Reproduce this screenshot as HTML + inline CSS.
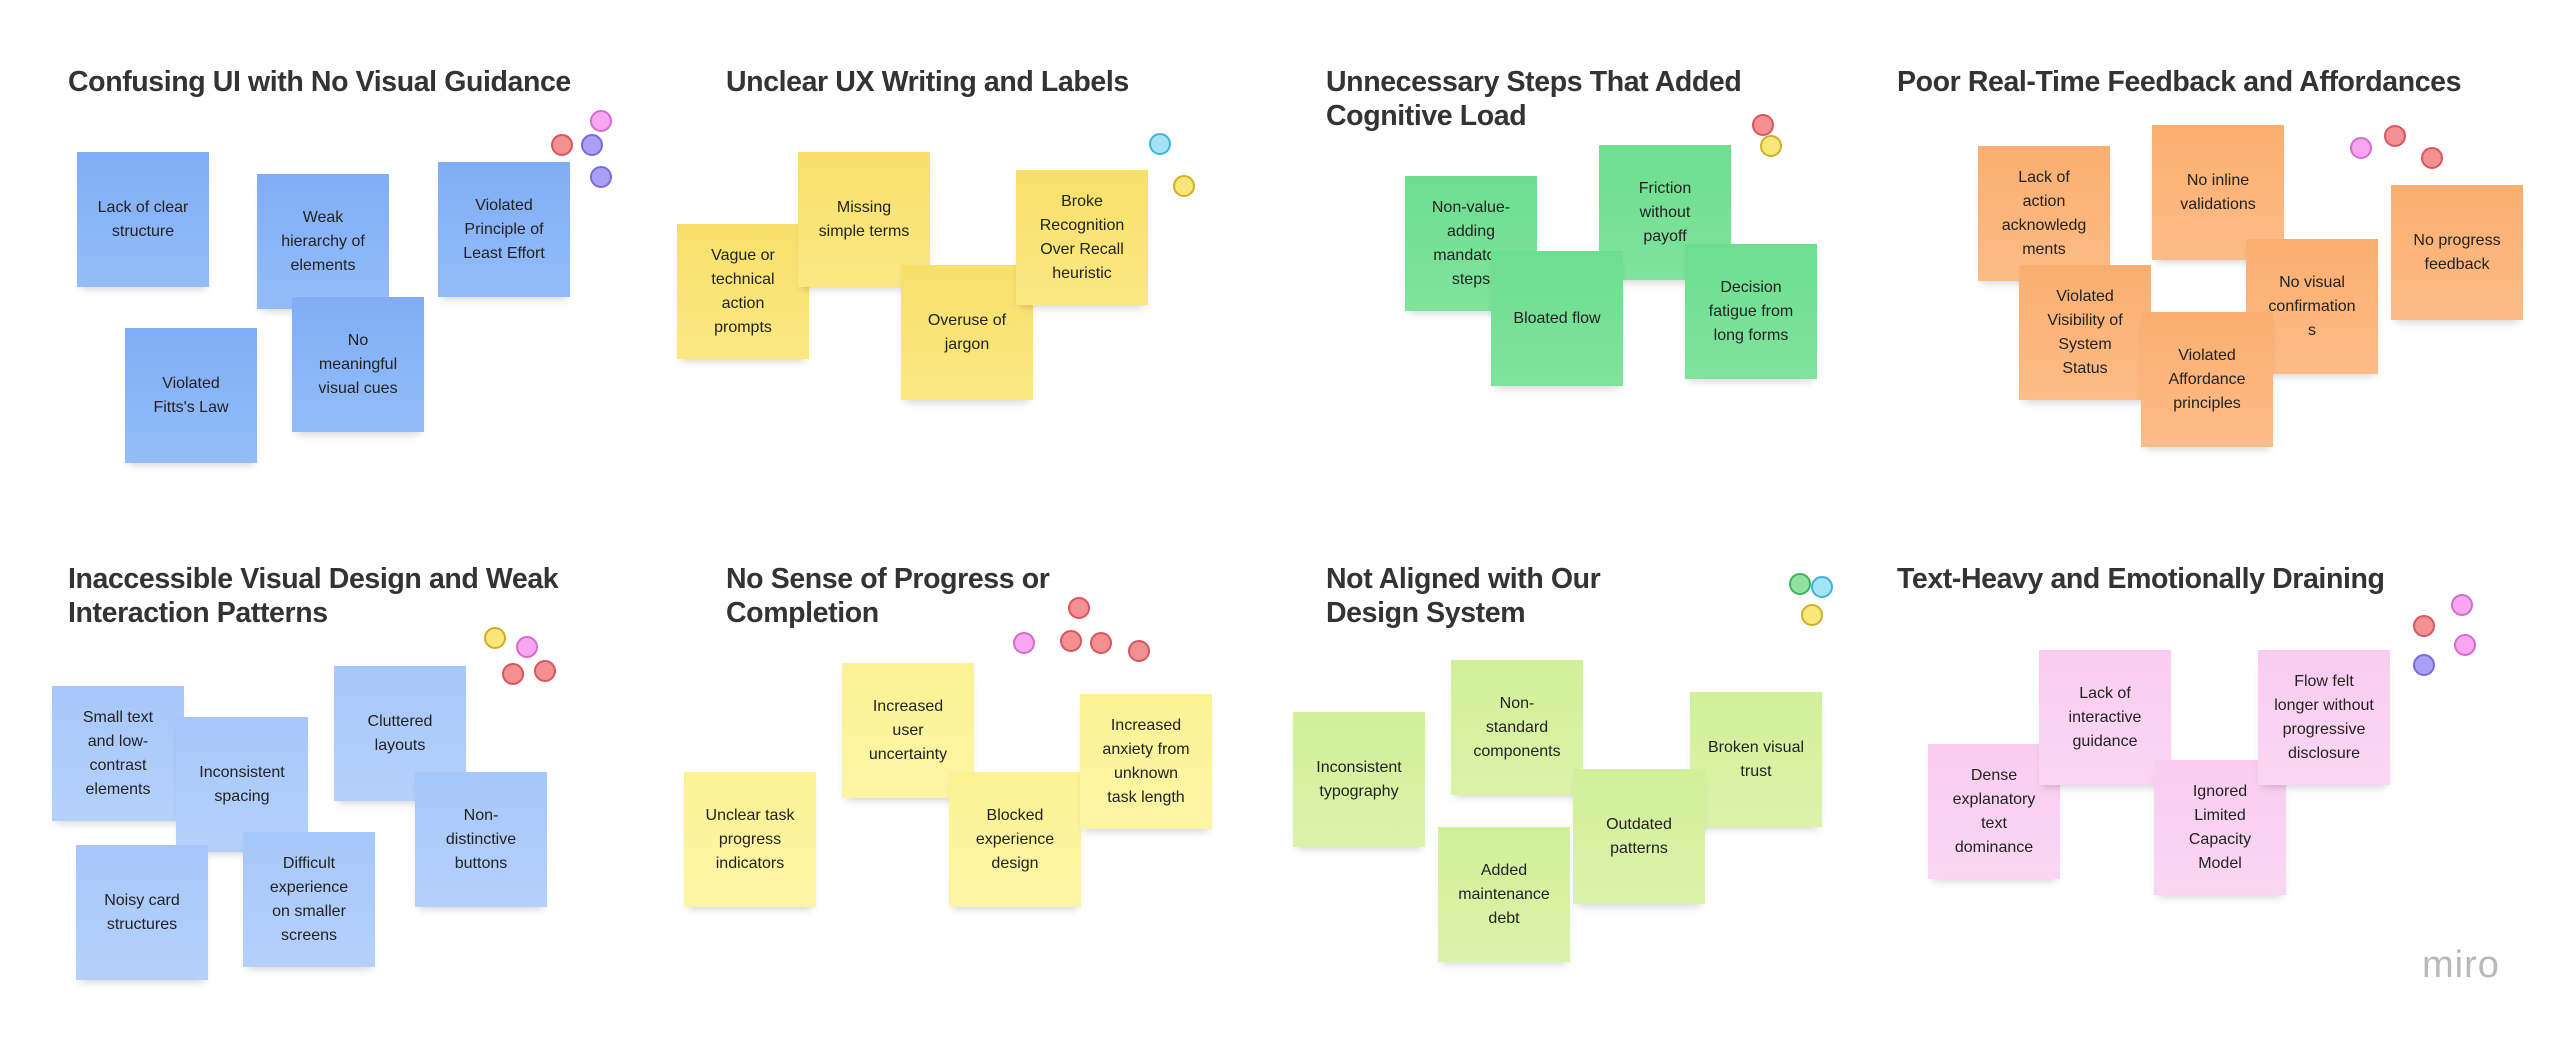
<!DOCTYPE html>
<html><head><meta charset="utf-8"><style>
body{margin:0;width:2560px;height:1041px;background:#fff;position:relative;overflow:hidden;font-family:"Liberation Sans",sans-serif;}
.t{position:absolute;font-weight:bold;font-size:28.5px;line-height:34px;color:#333;letter-spacing:-0.4px;}
.n{position:absolute;width:132px;height:135px;display:flex;align-items:center;justify-content:center;text-align:center;font-size:16px;line-height:24px;color:#222;box-shadow:0 6px 8px -4px rgba(0,0,0,0.18);box-sizing:border-box;padding:0 6px;}
.b{background:linear-gradient(#80adf5,#93bdf9);}
.y{background:linear-gradient(#f8e06a,#fbe883);}
.g{background:linear-gradient(#6dde8f,#7fe39c);}
.o{background:linear-gradient(#fbae70,#fcbc86);}
.lb{background:linear-gradient(#a6c7fa,#b5d1fb);}
.ly{background:linear-gradient(#fcf294,#fdf5a6);}
.lg{background:linear-gradient(#d2f09a,#daf3a9);}
.p{background:linear-gradient(#f9cdf0,#fbd6f3);}
.d{position:absolute;width:18px;height:18px;border-radius:50%;border:2px solid;}
.dr{background:#f49090;border-color:#d95560;}
.dp{background:#f7a6ef;border-color:#d46bd2;}
.du{background:#ab9ef5;border-color:#7a6ae0;}
.dc{background:#a3e4f6;border-color:#3db3d8;}
.dy{background:#fae77a;border-color:#d0ae25;}
.dg{background:#8fe39e;border-color:#3db35e;}
</style></head><body>

<div class="t" style="left:68px;top:65px">Confusing UI with No Visual Guidance</div>
<div class="t" style="left:726px;top:65px">Unclear UX Writing and Labels</div>
<div class="t" style="left:1326px;top:65px">Unnecessary Steps That Added<br>Cognitive Load</div>
<div class="t" style="left:1897px;top:65px">Poor Real-Time Feedback and Affordances</div>
<div class="t" style="left:68px;top:562px">Inaccessible Visual Design and Weak<br>Interaction Patterns</div>
<div class="t" style="left:726px;top:562px">No Sense of Progress or<br>Completion</div>
<div class="t" style="left:1326px;top:562px">Not Aligned with Our<br>Design System</div>
<div class="t" style="left:1897px;top:562px">Text-Heavy and Emotionally Draining</div>

<!-- Q1 -->
<div class="n b" style="left:77px;top:152px">Lack of clear<br>structure</div>
<div class="n b" style="left:257px;top:174px">Weak<br>hierarchy of<br>elements</div>
<div class="n b" style="left:438px;top:162px">Violated<br>Principle of<br>Least Effort</div>
<div class="n b" style="left:125px;top:328px">Violated<br>Fitts's Law</div>
<div class="n b" style="left:292px;top:297px">No<br>meaningful<br>visual cues</div>
<div class="d dp" style="left:590px;top:110px"></div>
<div class="d dr" style="left:551px;top:134px"></div>
<div class="d du" style="left:581px;top:134px"></div>
<div class="d du" style="left:590px;top:166px"></div>

<!-- Q2 -->
<div class="n y" style="left:677px;top:224px">Vague or<br>technical<br>action<br>prompts</div>
<div class="n y" style="left:798px;top:152px">Missing<br>simple terms</div>
<div class="n y" style="left:901px;top:265px">Overuse of<br>jargon</div>
<div class="n y" style="left:1016px;top:170px">Broke<br>Recognition<br>Over Recall<br>heuristic</div>
<div class="d dc" style="left:1149px;top:133px"></div>
<div class="d dy" style="left:1173px;top:175px"></div>

<!-- Q3 -->
<div class="n g" style="left:1405px;top:176px">Non-value-<br>adding<br>mandatory<br>steps</div>
<div class="n g" style="left:1599px;top:145px">Friction<br>without<br>payoff</div>
<div class="n g" style="left:1491px;top:251px">Bloated flow</div>
<div class="n g" style="left:1685px;top:244px">Decision<br>fatigue from<br>long forms</div>
<div class="d dr" style="left:1752px;top:114px"></div>
<div class="d dy" style="left:1760px;top:135px"></div>

<!-- Q4 -->
<div class="n o" style="left:1978px;top:146px">Lack of<br>action<br>acknowledg<br>ments</div>
<div class="n o" style="left:2152px;top:125px">No inline<br>validations</div>
<div class="n o" style="left:2391px;top:185px">No progress<br>feedback</div>
<div class="n o" style="left:2019px;top:265px">Violated<br>Visibility of<br>System<br>Status</div>
<div class="n o" style="left:2246px;top:239px">No visual<br>confirmation<br>s</div>
<div class="n o" style="left:2141px;top:312px">Violated<br>Affordance<br>principles</div>
<div class="d dp" style="left:2350px;top:137px"></div>
<div class="d dr" style="left:2384px;top:125px"></div>
<div class="d dr" style="left:2421px;top:147px"></div>

<!-- Q5 -->
<div class="n lb" style="left:52px;top:686px">Small text<br>and low-<br>contrast<br>elements</div>
<div class="n lb" style="left:176px;top:717px">Inconsistent<br>spacing</div>
<div class="n lb" style="left:334px;top:666px">Cluttered<br>layouts</div>
<div class="n lb" style="left:415px;top:772px">Non-<br>distinctive<br>buttons</div>
<div class="n lb" style="left:76px;top:845px">Noisy card<br>structures</div>
<div class="n lb" style="left:243px;top:832px">Difficult<br>experience<br>on smaller<br>screens</div>
<div class="d dy" style="left:484px;top:627px"></div>
<div class="d dp" style="left:516px;top:636px"></div>
<div class="d dr" style="left:502px;top:663px"></div>
<div class="d dr" style="left:534px;top:660px"></div>

<!-- Q6 -->
<div class="n ly" style="left:684px;top:772px">Unclear task<br>progress<br>indicators</div>
<div class="n ly" style="left:842px;top:663px">Increased<br>user<br>uncertainty</div>
<div class="n ly" style="left:949px;top:772px">Blocked<br>experience<br>design</div>
<div class="n ly" style="left:1080px;top:694px">Increased<br>anxiety from<br>unknown<br>task length</div>
<div class="d dr" style="left:1068px;top:597px"></div>
<div class="d dp" style="left:1013px;top:632px"></div>
<div class="d dr" style="left:1060px;top:630px"></div>
<div class="d dr" style="left:1090px;top:632px"></div>
<div class="d dr" style="left:1128px;top:640px"></div>

<!-- Q7 -->
<div class="n lg" style="left:1293px;top:712px">Inconsistent<br>typography</div>
<div class="n lg" style="left:1451px;top:660px">Non-<br>standard<br>components</div>
<div class="n lg" style="left:1690px;top:692px">Broken visual<br>trust</div>
<div class="n lg" style="left:1438px;top:827px">Added<br>maintenance<br>debt</div>
<div class="n lg" style="left:1573px;top:769px">Outdated<br>patterns</div>
<div class="d dg" style="left:1789px;top:573px"></div>
<div class="d dc" style="left:1811px;top:576px"></div>
<div class="d dy" style="left:1801px;top:604px"></div>

<!-- Q8 -->
<div class="n p" style="left:1928px;top:744px">Dense<br>explanatory<br>text<br>dominance</div>
<div class="n p" style="left:2039px;top:650px">Lack of<br>interactive<br>guidance</div>
<div class="n p" style="left:2154px;top:760px">Ignored<br>Limited<br>Capacity<br>Model</div>
<div class="n p" style="left:2258px;top:650px">Flow felt<br>longer without<br>progressive<br>disclosure</div>
<div class="d dp" style="left:2451px;top:594px"></div>
<div class="d dr" style="left:2413px;top:615px"></div>
<div class="d dp" style="left:2454px;top:634px"></div>
<div class="d du" style="left:2413px;top:654px"></div>

<div style="position:absolute;left:2422px;top:944px;font-size:38px;color:#b8b8b8;letter-spacing:1px;">miro</div>
</body></html>
